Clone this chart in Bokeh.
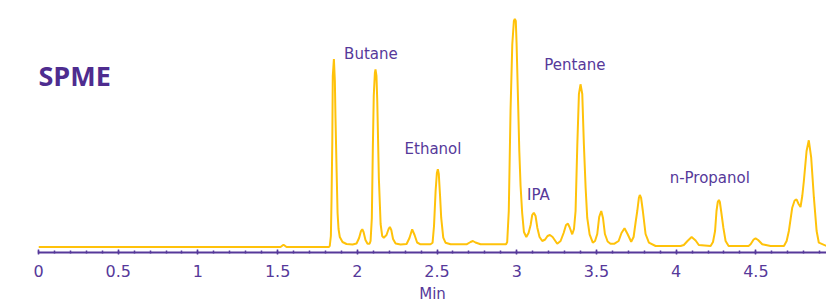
from bokeh.plotting import figure
from bokeh.models import Range1d, SingleIntervalTicker, NumeralTickFormatter, ColumnDataSource
from bokeh.core.properties import value
from bokeh.embed import file_html
from bokeh.resources import INLINE

# Chromatogram trace: retention time (min) and detector signal (arbitrary units)
time_min = [0.000, 1.518, 1.537, 1.556, 1.822, 1.827, 1.834, 1.838, 1.843, 1.846,
            1.853, 1.859, 1.863, 1.870, 1.876, 1.882, 1.890, 1.907, 1.932, 1.970,
            1.995, 2.011, 2.023, 2.031, 2.039, 2.051, 2.064, 2.077, 2.083, 2.091,
            2.097, 2.103, 2.110, 2.114, 2.120, 2.125, 2.135, 2.146, 2.156, 2.166,
            2.183, 2.196, 2.204, 2.213, 2.224, 2.240, 2.271, 2.309, 2.327, 2.344,
            2.359, 2.375, 2.396, 2.459, 2.472, 2.481, 2.491, 2.499, 2.505, 2.511,
            2.519, 2.526, 2.539, 2.553, 2.585, 2.685, 2.710, 2.725, 2.741, 2.773,
            2.933, 2.940, 2.950, 2.961, 2.972, 2.982, 2.988, 2.994, 2.999, 3.009,
            3.016, 3.024, 3.034, 3.045, 3.060, 3.074, 3.087, 3.097, 3.107, 3.118,
            3.129, 3.143, 3.160, 3.178, 3.193, 3.208, 3.225, 3.254, 3.275, 3.294,
            3.309, 3.321, 3.331, 3.348, 3.359, 3.369, 3.380, 3.390, 3.400, 3.411,
            3.421, 3.432, 3.442, 3.457, 3.477, 3.491, 3.505, 3.517, 3.530, 3.541,
            3.553, 3.570, 3.588, 3.613, 3.639, 3.657, 3.676, 3.695, 3.718, 3.733,
            3.745, 3.756, 3.766, 3.772, 3.780, 3.791, 3.808, 3.829, 3.871, 4.028,
            4.048, 4.071, 4.097, 4.122, 4.142, 4.216, 4.231, 4.244, 4.253, 4.261,
            4.268, 4.274, 4.282, 4.296, 4.310, 4.329, 4.454, 4.467, 4.486, 4.498,
            4.514, 4.540, 4.592, 4.676, 4.693, 4.707, 4.728, 4.743, 4.755, 4.768,
            4.780, 4.791, 4.801, 4.818, 4.832, 4.847, 4.864, 4.881, 4.895, 4.943]
signal = [0.0, 0.0, 2.3, 0.0, 0.0, 1.0, 11.0, 46.0, 106.0, 171.0,
          188.0, 166.0, 129.0, 76.0, 34.0, 18.0, 10.0, 5.0, 3.0, 2.5,
          3.5, 9.0, 16.0, 17.7, 15.0, 7.0, 3.2, 3.3, 6.0, 29.0,
          96.0, 151.0, 174.0, 177.7, 171.0, 146.0, 69.0, 23.0, 11.0, 9.3,
          12.0, 18.0, 20.0, 17.0, 8.0, 3.5, 2.5, 3.0, 9.0, 17.7,
          12.0, 4.5, 2.7, 2.7, 4.3, 21.0, 56.0, 74.0, 77.7, 73.0,
          51.0, 29.3, 9.3, 4.3, 2.7, 2.7, 5.0, 6.0, 4.5, 2.7,
          2.7, 5.0, 36.0, 136.0, 202.7, 226.0, 228.0, 226.0, 203.0, 141.0,
          96.0, 61.0, 34.0, 15.0, 10.0, 14.0, 22.0, 32.0, 34.3, 31.0,
          19.3, 10.0, 6.0, 7.5, 11.0, 12.0, 10.0, 3.3, 6.0, 14.0,
          22.0, 23.3, 20.0, 12.7, 18.0, 36.0, 103.0, 153.0, 162.7, 153.0,
          103.0, 59.3, 29.3, 12.7, 4.3, 6.0, 13.0, 30.0, 36.0, 29.0,
          13.0, 5.5, 3.3, 3.3, 6.0, 14.0, 18.7, 13.0, 5.3, 10.0,
          24.0, 36.0, 49.0, 52.0, 49.0, 36.0, 13.0, 4.3, 1.0, 1.0,
          2.0, 6.0, 10.0, 6.5, 2.0, 1.0, 5.0, 16.0, 36.0, 45.0,
          47.0, 45.0, 36.0, 19.3, 6.0, 1.0, 1.0, 2.7, 7.5, 8.7,
          7.0, 2.7, 1.0, 1.0, 6.0, 16.0, 39.3, 46.5, 47.7, 43.0,
          40.0, 51.0, 66.0, 96.0, 106.7, 89.3, 49.3, 16.0, 4.3, 1.0]

# Peak labels and their anchor points (time, signal)
peak_names = ["Butane", "Ethanol", "IPA", "Pentane", "n-Propanol"]
peak_label_time = [1.917, 2.296, 3.065, 3.173, 3.959]
peak_label_signal = [193.3, 98.0, 52.3, 182.3, 68.7]

title_text = ["SPME"]
title_time = [0.0]
title_signal = [171.5]

x_axis_label = "Min"

PURPLE = "#56399A"
TITLE_PURPLE = "#4E2C8F"
GOLD = "#FFC20A"

p = figure(width=826, height=305, output_backend="svg", toolbar_location=None,
           x_range=Range1d(0, 4.943), y_range=Range1d(-5.5, 246.5),
           min_border_left=38, min_border_right=0, min_border_top=0, min_border_bottom=0)
p.outline_line_color = None
p.background_fill_color = "white"
p.border_fill_color = "white"
p.xgrid.visible = False
p.ygrid.visible = False
p.yaxis.visible = False

p.line(time_min, signal, line_color=GOLD, line_width=2)

lab_src = ColumnDataSource(dict(x=peak_label_time, y=peak_label_signal, t=peak_names))
p.text(x="x", y="y", text="t", source=lab_src, text_color=PURPLE,
       text_font=value("DejaVu Sans"), text_font_size="15px",
       text_align="left", text_baseline="alphabetic")

p.text(x=title_time, y=title_signal, text=title_text, text_color=TITLE_PURPLE,
       text_font=value("Open Sans"), text_font_size="27px", text_font_style="bold",
       text_align="left", text_baseline="alphabetic")

ax = p.xaxis[0]
ax.ticker = SingleIntervalTicker(interval=0.5, num_minor_ticks=5)
ax.formatter = NumeralTickFormatter(format="0.[0]")
ax.axis_line_color = PURPLE
ax.axis_line_width = 2
ax.major_tick_line_color = PURPLE
ax.minor_tick_line_color = PURPLE
ax.major_tick_line_width = 1.5
ax.minor_tick_line_width = 1.5
ax.major_tick_in = 3
ax.major_tick_out = 2
ax.minor_tick_in = 2
ax.minor_tick_out = 1
ax.major_label_text_color = PURPLE
ax.major_label_text_font = "DejaVu Sans"
ax.major_label_text_font_size = "16px"
ax.major_label_standoff = 10
ax.axis_label = x_axis_label
ax.axis_label_text_color = PURPLE
ax.axis_label_text_font = "DejaVu Sans"
ax.axis_label_text_font_size = "15px"
ax.axis_label_text_font_style = "normal"
ax.axis_label_standoff = 5

open("out.html", "w").write(file_html(p, INLINE))
